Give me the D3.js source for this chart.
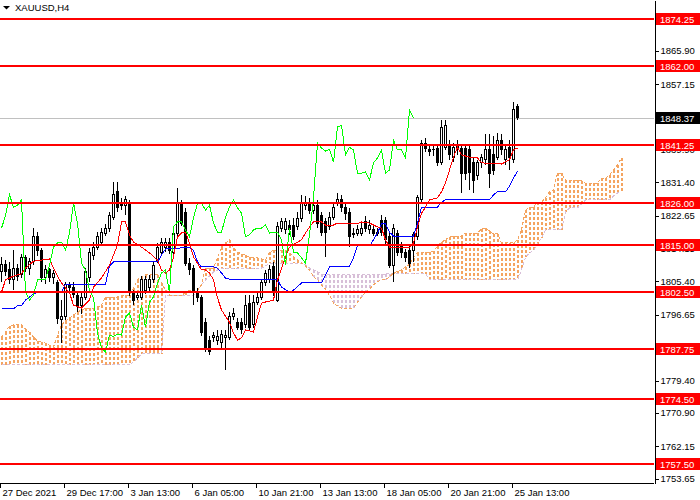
<!DOCTYPE html>
<html>
<head>
<meta charset="utf-8">
<script src="https://cdn.jsdelivr.net/npm/d3@7"></script>
<style>
body { margin: 0; background: #fff; }
svg { display: block; font-family: "Liberation Sans", Arial, sans-serif; }
</style>
</head>
<body>
<script>
// XAUUSD H4
var timeLabels = ["27 Dec 2021", "29 Dec 17:00", "3 Jan 13:00", "6 Jan 05:00", "10 Jan 21:00",
	"13 Jan 13:00", "18 Jan 05:00", "20 Jan 21:00", "25 Jan 13:00"];
var timeTickBars = [0, 16, 32, 48, 64, 80, 96, 112, 128];
var priceTicks = [1865.90, 1857.15, 1839.90, 1831.40, 1822.65, 1814.15,
	1805.40, 1796.65, 1779.40, 1770.90, 1762.15, 1753.65];
var levels = [1874.25, 1862.00, 1841.25, 1826.00, 1815.00, 1802.50, 1787.75, 1774.50, 1757.50];
var bid = 1848.37;

var opens = [1807.9,1809.9,1808.4,1805.8,1808.9,1807.1,1811.6,1808.9,1810.5,1817.3,
	1813.6,1806.3,1808.4,1806.3,1805.0,1795.3,1796.3,1804.5,1803.9,1801.8,
	1799.0,1801.3,1806.3,1812.1,1814.2,1815.5,1818.1,1819.4,1822.3,1828.9,
	1826.2,1825.4,1826.0,1802.4,1801.1,1801.3,1803.1,1803.7,1805.8,1811.0,
	1812.9,1814.2,1815.7,1812.9,1818.1,1826.0,1823.6,1810.2,1808.9,1802.4,
	1801.1,1794.5,1790.0,1790.6,1790.0,1789.5,1790.6,1790.8,1796.1,1794.5,
	1794.5,1794.0,1799.7,1794.0,1800.0,1801.1,1805.0,1805.8,1809.2,1800.5,
	1819.4,1818.9,1820.2,1820.2,1819.7,1822.0,1825.4,1826.0,1824.1,1825.4,
	1822.8,1821.0,1819.7,1822.3,1826.0,1826.8,1824.7,1823.6,1818.1,1818.1,
	1818.1,1821.0,1818.9,1818.9,1818.1,1821.5,1821.5,1817.1,1809.7,1818.1,
	1814.7,1812.9,1813.6,1813.6,1817.1,1826.8,1841.7,1839.9,1839.9,1840.4,
	1836.7,1840.6,1841.2,1837.8,1841.2,1840.4,1840.4,1839.9,1836.5,1833.3,
	1836.5,1837.3,1839.9,1838.6,1838.0,1842.5,1837.3,1840.6,1837.3,1851.2];
var highs = [1811.8,1811.0,1810.5,1813.6,1809.9,1812.6,1812.3,1811.6,1819.4,1818.3,
	1814.2,1809.7,1808.9,1808.4,1805.8,1800.5,1805.3,1805.3,1805.3,1802.6,
	1802.6,1808.9,1814.2,1815.7,1818.3,1819.4,1820.5,1823.6,1831.5,1831.5,
	1827.3,1827.8,1826.8,1803.1,1802.6,1806.8,1806.8,1807.1,1810.5,1815.5,
	1816.8,1816.8,1816.8,1819.4,1829.9,1826.8,1824.7,1811.6,1809.7,1803.7,
	1801.8,1795.8,1791.1,1792.1,1792.7,1792.7,1792.7,1797.4,1798.4,1795.8,
	1795.8,1801.8,1801.8,1801.8,1802.6,1805.8,1808.4,1809.7,1810.5,1821.0,
	1822.0,1822.0,1821.5,1822.0,1823.6,1828.1,1827.8,1827.3,1826.8,1826.8,
	1823.6,1822.0,1823.6,1826.2,1828.6,1828.1,1825.7,1824.7,1819.4,1820.2,
	1821.0,1822.6,1821.5,1819.9,1819.4,1822.8,1822.3,1818.1,1820.5,1818.9,
	1815.7,1813.9,1814.7,1818.3,1828.1,1842.5,1843.0,1841.2,1840.9,1841.4,
	1847.8,1847.8,1842.5,1841.7,1842.5,1841.2,1841.4,1840.9,1837.8,1837.3,
	1838.8,1844.1,1844.1,1843.5,1844.3,1844.1,1841.4,1842.5,1852.5,1852.0];
var lows = [1805.3,1806.8,1804.7,1803.1,1805.5,1806.3,1807.9,1807.1,1809.7,1812.1,
	1805.3,1804.7,1805.3,1804.7,1794.2,1789.2,1795.3,1802.6,1801.1,1797.4,
	1796.9,1800.5,1805.3,1811.0,1813.6,1814.7,1817.3,1818.3,1821.5,1823.6,
	1824.1,1822.8,1801.6,1799.2,1800.5,1800.5,1802.1,1802.6,1805.0,1810.2,
	1812.1,1813.1,1812.6,1812.1,1817.3,1819.9,1809.4,1807.1,1799.2,1800.0,
	1791.1,1786.9,1786.1,1789.5,1788.7,1787.9,1782.2,1790.0,1795.3,1792.7,
	1791.6,1793.2,1792.7,1793.2,1799.2,1800.5,1804.2,1805.0,1801.6,1800.0,
	1818.3,1817.8,1817.6,1816.3,1818.9,1821.0,1824.1,1823.1,1823.1,1819.4,
	1817.3,1811.8,1818.9,1821.5,1825.2,1823.6,1821.5,1814.4,1816.8,1817.3,
	1817.3,1818.3,1817.8,1817.3,1817.3,1817.3,1815.2,1808.9,1805.3,1812.1,
	1811.6,1810.5,1808.9,1810.5,1816.3,1826.2,1839.4,1838.3,1838.3,1835.7,
	1835.9,1839.9,1837.3,1836.7,1838.6,1828.6,1832.0,1829.4,1828.6,1832.0,
	1835.1,1835.9,1829.9,1833.3,1837.3,1838.6,1835.9,1834.6,1836.5,1847.8];
var closes = [1809.9,1807.9,1805.8,1808.9,1806.6,1811.6,1808.9,1810.5,1817.3,1813.6,
	1806.3,1808.4,1806.3,1807.4,1795.8,1796.3,1804.5,1803.7,1802.1,1798.7,
	1801.1,1807.9,1813.1,1814.4,1817.3,1818.3,1819.4,1822.6,1828.1,1824.9,
	1825.4,1826.8,1802.6,1800.5,1801.8,1805.8,1805.8,1805.8,1809.7,1814.4,
	1815.5,1815.7,1813.6,1818.1,1826.0,1820.7,1810.2,1808.4,1803.1,1801.1,
	1791.9,1787.9,1786.9,1791.3,1791.0,1791.6,1791.3,1796.1,1797.1,1793.4,
	1792.7,1799.2,1793.4,1800.0,1801.3,1805.0,1807.6,1808.4,1802.4,1819.7,
	1821.0,1821.0,1818.9,1817.1,1822.0,1826.0,1826.0,1824.1,1825.4,1820.7,
	1818.3,1818.3,1822.3,1824.9,1826.8,1824.7,1823.3,1817.1,1817.6,1818.9,
	1819.4,1819.4,1820.2,1818.1,1818.3,1818.3,1816.3,1809.7,1819.4,1813.1,
	1812.9,1811.6,1810.2,1817.6,1827.3,1841.7,1840.4,1839.6,1840.1,1836.7,
	1845.9,1846.4,1838.6,1840.6,1839.9,1833.8,1833.8,1834.1,1832.0,1836.5,
	1837.8,1839.9,1833.8,1834.6,1842.5,1839.9,1839.9,1837.8,1850.4,1848.37];

// Ichimoku: [bar, price]
var tenkan = [[0,1802.6],[1,1805.8],[3,1806.8],[5,1807.4],[6,1808.9],[8,1810.7],[12,1811.3],[13,1808.9],
	[14,1806.8],[15,1805.0],[17,1802.4],[18,1799.2],[20,1798.4],[22,1800.5],[23,1803.9],[25,1806.3],
	[27,1809.7],[28,1812.3],[29,1814.9],[30,1821.0],[31,1821.0],[32,1817.6],[33,1815.7],[35,1814.4],
	[37,1812.9],[39,1811.0],[40,1808.4],[41,1807.6],[42,1808.4],[43,1811.8],[44,1817.1],[45,1818.1],
	[46,1818.3],[47,1815.5],[48,1811.8],[49,1810.2],[50,1808.4],[51,1808.4],[52,1807.6],[53,1805.8],
	[54,1801.1],[55,1797.9],[56,1796.3],[57,1794.7],[58,1791.9],[59,1790.0],[60,1790.6],[61,1792.7],
	[63,1792.1],[64,1796.1],[65,1799.7],[66,1800.0],[68,1800.5],[69,1805.8],[71,1811.8],[72,1814.4],
	[75,1816.3],[76,1818.1],[77,1819.7],[78,1821.0],[80,1821.0],[81,1820.2],[83,1820.2],[84,1820.7],
	[86,1820.7],[89,1820.5],[90,1821.0],[92,1820.7],[94,1819.7],[95,1819.4],[96,1816.3],[97,1814.4],
	[102,1814.2],[103,1815.5],[104,1819.7],[105,1823.3],[106,1824.9],[107,1826.8],[109,1827.3],
	[110,1828.9],[111,1831.2],[112,1834.6],[113,1838.0],[114,1840.6],[115,1838.6],[117,1838.0],
	[119,1837.8],[120,1836.5],[125,1836.2],[127,1837.3],[128,1839.9],[129,1840.4]];
var kijun = [[0,1798.2],[3,1798.2],[4,1799.0],[5,1799.0],[6,1800.5],[8,1802.1],[9,1802.6],[15,1802.6],
	[16,1804.7],[26,1804.7],[27,1809.4],[28,1810.5],[39,1810.5],[40,1812.3],[41,1813.9],[45,1814.2],
	[47,1814.4],[48,1813.6],[49,1810.5],[50,1809.2],[53,1809.2],[54,1808.9],[55,1807.6],[56,1806.3],
	[57,1806.0],[69,1805.8],[70,1803.9],[72,1802.6],[73,1803.1],[75,1805.0],[80,1805.0],[81,1807.1],
	[82,1809.2],[87,1809.4],[88,1811.6],[89,1814.7],[92,1814.7],[93,1816.3],[94,1818.1],[95,1820.5],
	[96,1820.5],[97,1818.3],[98,1817.3],[103,1817.3],[104,1820.7],[105,1824.9],[109,1824.9],
	[110,1826.2],[111,1826.8],[122,1826.8],[123,1828.1],[124,1828.9],[126,1828.9],[127,1830.4],
	[128,1832.5],[129,1834.3]];
var chikouShift = 26;

// senkou spans, one value per bar (26 bars run past the last candle)
var spanA = [1790.8,1792.1,1793.7,1794.0,1794.0,1794.0,1792.9,1792.1,1790.8,1789.8,
	1789.5,1789.2,1788.7,1788.2,1791.3,1794.0,1795.0,1795.8,1796.6,1797.4,
	1797.9,1798.4,1798.4,1798.4,1798.7,1799.2,1801.3,1801.3,1801.3,1801.3,
	1801.8,1801.8,1801.8,1803.7,1805.8,1806.6,1807.1,1807.1,1807.1,1807.1,
	1805.0,1803.1,1801.8,1801.8,1801.8,1801.8,1802.4,1803.1,1803.1,1803.1,
	1804.5,1808.9,1808.9,1808.9,1811.6,1814.4,1815.5,1816.3,1814.2,1813.1,
	1812.6,1812.3,1811.8,1811.6,1811.6,1811.3,1811.0,1813.1,1813.6,1813.6,
	1813.6,1813.6,1812.9,1811.8,1811.0,1810.2,1809.5,1808.4,1806.6,1805.8,
	1804.5,1803.4,1801.8,1799.7,1799.0,1798.4,1798.4,1798.4,1798.4,1800.0,
	1801.3,1802.6,1803.4,1804.5,1805.3,1805.8,1805.8,1806.6,1807.6,1808.1,
	1808.4,1809.2,1809.9,1811.6,1812.9,1813.1,1813.1,1813.1,1813.4,1814.7,
	1815.7,1816.3,1817.1,1817.3,1817.3,1817.3,1818.1,1818.1,1818.1,1818.1,
	1819.2,1819.4,1818.6,1817.9,1817.9,1815.5,1815.5,1815.5,1815.5,1816.3,
	1818.9,1824.1,1824.9,1824.9,1826.2,1826.2,1827.3,1828.9,1829.4,1833.8,
	1833.8,1832.0,1832.0,1832.0,1832.0,1831.8,1831.2,1831.2,1831.2,1831.2,
	1832.5,1832.5,1833.3,1834.6,1836.0,1837.8];
var spanB = [1783.5,1783.5,1783.5,1783.5,1783.5,1783.5,1783.5,1783.5,1783.5,1783.5,
	1783.5,1783.5,1783.5,1783.5,1783.5,1783.5,1783.5,1783.5,1783.5,1783.5,
	1783.5,1783.5,1783.5,1783.5,1783.5,1783.5,1783.5,1783.5,1783.5,1783.5,
	1783.5,1783.5,1783.5,1784.3,1785.3,1786.4,1786.4,1786.4,1786.4,1786.4,
	1786.4,1801.8,1801.8,1801.8,1801.8,1801.8,1801.8,1801.8,1801.8,1803.1,
	1804.5,1805.8,1806.8,1807.9,1808.4,1808.7,1808.7,1808.7,1808.7,1808.7,
	1808.7,1808.7,1808.7,1808.7,1808.7,1808.9,1809.5,1810.2,1810.2,1810.2,
	1810.2,1810.2,1810.2,1810.2,1810.2,1810.2,1809.7,1808.9,1808.4,1807.9,
	1807.4,1807.1,1807.1,1807.1,1807.1,1807.1,1807.1,1807.1,1807.1,1807.1,
	1807.1,1807.1,1807.1,1807.1,1807.1,1807.1,1807.4,1807.4,1807.4,1807.4,
	1807.4,1807.4,1807.4,1807.4,1807.4,1807.4,1807.4,1805.8,1805.8,1805.8,
	1805.8,1805.8,1805.8,1805.8,1805.8,1805.8,1805.8,1805.8,1805.8,1805.8,
	1805.8,1805.8,1805.8,1805.8,1805.8,1805.8,1805.8,1805.8,1805.8,1805.8,
	1808.4,1811.8,1812.9,1813.6,1815.2,1816.8,1818.9,1818.9,1818.9,1818.9,
	1818.9,1823.6,1824.7,1824.7,1824.7,1825.7,1826.8,1826.8,1826.8,1826.8,
	1826.8,1826.8,1826.8,1827.8,1828.6,1828.9];

var plotW = 654, plotH = 483;
var upKumo = "#F4A460", downKumo = "#D8BFD8";

var svg = d3.select("body").append("svg")
	.attr("width", 700)
	.attr("height", 500);

var x = d3.scaleLinear().domain([0, 160]).range([1.5, 641.5]);
var y = d3.scaleLinear().domain([1752.52, 1879.23]).range([plotH, 0]);

svg.append("clipPath").attr("id", "clip")
	.append("rect").attr("width", plotW).attr("height", plotH);

var plot = svg.append("g").attr("clip-path", "url(#clip)").attr("shape-rendering", "crispEdges");

// kumo hatching: short dashes down each bar between the two spans
var dashes = [];
spanA.forEach(function(a, i) {
	var b = spanB[i];
	var top = Math.round(y(Math.max(a, b))), bot = Math.round(y(Math.min(a, b)));
	for (var yy = top; yy < bot; yy += 5) {
		dashes.push({i: i, y: yy, h: Math.min(3, bot - yy), up: a >= b});
	}
});

plot.selectAll("rect.kumo")
	.data(dashes)
	.enter()
	.append("rect")
	.attr("class", "kumo")
	.attr("x", function(d) { return x(d.i) - 1; })
	.attr("y", function(d) { return d.y; })
	.attr("width", 2)
	.attr("height", function(d) { return d.h; })
	.attr("fill", function(d) { return d.up ? upKumo : downKumo; });

var spanLine = d3.line().x(function(d, i) { return x(i); }).y(function(d) { return y(d); });
plot.append("path").attr("d", spanLine(spanB)).attr("fill", "none")
	.attr("stroke", downKumo).attr("stroke-dasharray", "3,2");
plot.append("path").attr("d", spanLine(spanA)).attr("fill", "none")
	.attr("stroke", upKumo).attr("stroke-dasharray", "3,2");

// bid line
plot.append("line")
	.attr("x1", 0).attr("x2", plotW)
	.attr("y1", Math.round(y(bid)) + 0.5).attr("y2", Math.round(y(bid)) + 0.5)
	.attr("stroke", "#C0C0C0");

// candles
var bars = plot.selectAll("g.bar")
	.data(d3.range(closes.length))
	.enter()
	.append("g")
	.attr("class", "bar");

bars.append("line")
	.attr("x1", function(i) { return x(i); })
	.attr("x2", function(i) { return x(i); })
	.attr("y1", function(i) { return y(highs[i]); })
	.attr("y2", function(i) { return y(lows[i]); })
	.attr("stroke", "#000");

bars.append("rect")
	.attr("x", function(i) { return x(i) - 1; })
	.attr("width", 2)
	.attr("y", function(i) { return y(Math.max(opens[i], closes[i])); })
	.attr("height", function(i) { return Math.max(0.5, Math.abs(y(opens[i]) - y(closes[i]))); })
	.attr("fill", function(i) { return closes[i] >= opens[i] ? "#fff" : "#000"; })
	.attr("stroke", "#000");

// tenkan / kijun / chikou
var stepLine = d3.line().x(function(d) { return x(d[0]); }).y(function(d) { return y(d[1]); });
plot.append("path").attr("d", stepLine(kijun)).attr("fill", "none").attr("stroke", "#0000FF");
plot.append("path").attr("d", stepLine(tenkan)).attr("fill", "none").attr("stroke", "#FF0000");

var chikou = closes.map(function(c, i) { return [i - chikouShift, c]; })
	.filter(function(d) { return d[0] >= 0; });
plot.append("path").attr("d", stepLine(chikou)).attr("fill", "none").attr("stroke", "#00FF00");

// horizontal levels
plot.selectAll("line.level")
	.data(levels)
	.enter()
	.append("line")
	.attr("class", "level")
	.attr("x1", 0).attr("x2", plotW)
	.attr("y1", function(d) { return Math.round(y(d)); })
	.attr("y2", function(d) { return Math.round(y(d)); })
	.attr("stroke", "#FF0000")
	.attr("stroke-width", 2);

// price axis
var yAxis = d3.axisRight(y)
	.tickValues(priceTicks)
	.tickFormat(d3.format(".2f"))
	.tickSize(4)
	.tickSizeOuter(0)
	.tickPadding(2);

svg.append("g")
	.attr("transform", "translate(" + (plotW + 0.5) + ",0)")
	.attr("shape-rendering", "crispEdges")
	.call(yAxis)
	.call(function(g) {
		g.select(".domain").attr("stroke", "#000");
		g.selectAll(".tick line").attr("stroke", "#000");
		g.selectAll(".tick text").attr("fill", "#000").attr("font-size", "9.5px")
			.attr("font-family", "Liberation Sans, Arial, sans-serif");
	});

// time axis
var xAxis = d3.axisBottom(x)
	.tickValues(timeTickBars)
	.tickFormat(function(d, i) { return timeLabels[i]; })
	.tickSize(4)
	.tickSizeOuter(0);

svg.append("g")
	.attr("transform", "translate(-1.5," + (plotH + 0.5) + ")")
	.attr("shape-rendering", "crispEdges")
	.call(xAxis)
	.call(function(g) {
		g.select(".domain").attr("stroke", "#000").attr("d", "M1.5,0H" + (plotW + 1.5));
		g.selectAll(".tick line").attr("stroke", "#000");
		g.selectAll(".tick text").attr("fill", "#000").attr("font-size", "9.5px")
			.attr("text-anchor", "start").attr("x", 2).attr("y", 6)
			.attr("font-family", "Liberation Sans, Arial, sans-serif");
	});

// level tags on the price scale
var tags = svg.selectAll("g.tag")
	.data(levels.map(function(v) { return {v: v, c: "#FF0000"}; }).concat([{v: bid, c: "#000"}]))
	.enter()
	.append("g")
	.attr("class", "tag")
	.attr("transform", function(d) { return "translate(656," + Math.round(y(d.v)) + ")"; });

tags.append("rect")
	.attr("x", 0).attr("y", -6)
	.attr("width", 44).attr("height", 12)
	.attr("fill", function(d) { return d.c; });

tags.append("text")
	.attr("x", 4).attr("y", 3.5)
	.attr("fill", "#fff")
	.attr("font-size", "9.5px")
	.text(function(d) { return d.v.toFixed(2); });

// symbol caption
svg.append("path").attr("d", "M3,6H10L6.5,9.5Z").attr("fill", "#000");
svg.append("text")
	.attr("x", 15).attr("y", 11)
	.attr("font-size", "9.5px")
	.attr("fill", "#000")
	.text("XAUUSD,H4");
</script>
</body>
</html>
